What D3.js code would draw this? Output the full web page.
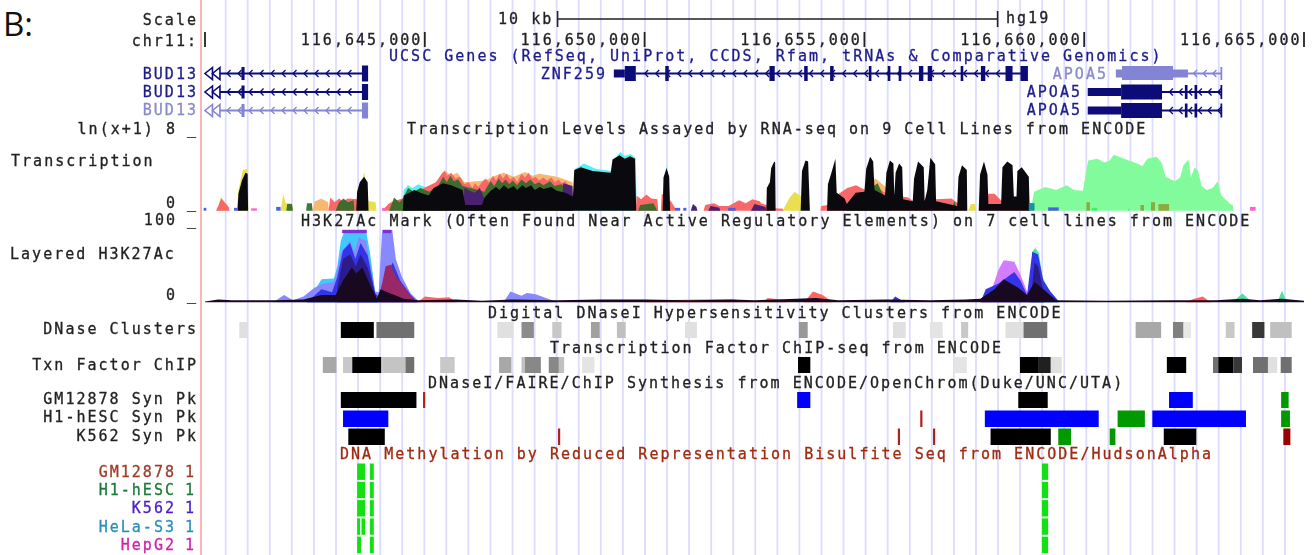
<!DOCTYPE html>
<html><head><meta charset="utf-8">
<script src="https://cdn.jsdelivr.net/npm/d3@7/dist/d3.min.js"></script>
<style>
html,body{margin:0;padding:0;background:#fff;overflow:hidden}
svg{display:block}
text{font-family:"DejaVu Sans Mono",monospace;font-size:15px;letter-spacing:2.02px;dominant-baseline:central}
.soft{filter:blur(0.75px)}
</style></head><body>
<script>
// ---------- axis ----------
const chrTicks=[116640000,116645000,116650000,116655000,116660000,116665000];
// ---------- track titles / labels ----------
const trackTitles=["UCSC Genes (RefSeq, UniProt, CCDS, Rfam, tRNAs & Comparative Genomics)","Transcription Levels Assayed by RNA-seq on 9 Cell Lines from ENCODE","H3K27Ac Mark (Often Found Near Active Regulatory Elements) on 7 cell lines from ENCODE","Digital DNaseI Hypersensitivity Clusters from ENCODE","Transcription Factor ChIP-seq from ENCODE","DNaseI/FAIRE/ChIP Synthesis from ENCODE/OpenChrom(Duke/UNC/UTA)","DNA Methylation by Reduced Representation Bisulfite Seq from ENCODE/HudsonAlpha"];
const sideLabels=["Scale","chr11:","BUD13","BUD13","BUD13","DNase Clusters","Txn Factor ChIP","GM12878 Syn Pk","H1-hESC Syn Pk","K562 Syn Pk"];
const methNames=["GM12878","H1-hESC","K562","HeLa-S3","HepG2"];
// ---------- genes, kb from chr11:116,640,000 ----------
const bud13Exons=[[0.83,0.90],[3.57,3.71]];
const znfExons=[[9.55,9.80],[10.47,10.55],[12.84,12.96],[13.63,13.71],[14.22,14.30],[15.10,15.16],[15.53,15.59],[15.78,15.84],[16.24,16.34],[16.44,16.54],[17.19,17.25],[17.65,17.75],[18.21,18.37],[18.55,18.72]];
const apoaExons=[[22.29,22.35],[22.51,22.57],[23.10,23.14]];
// ---------- transcription track (ln(x+1)), [kb,value] ----------
const txGreenBig=[[18.78,0],[18.86,2.0],[19.11,2.5],[19.36,2.2],[19.60,2.7],[19.77,2.2],[19.97,2.1],[20.09,5.3],[20.30,5.5],[20.46,5.1],[20.58,5.3],[20.67,5.9],[20.91,5.5],[21.20,5.0],[21.32,4.7],[21.44,5.5],[21.65,5.7],[21.77,5.0],[21.85,3.6],[22.06,3.1],[22.18,3.5],[22.26,4.8],[22.37,5.4],[22.43,3.5],[22.51,4.6],[22.59,4.2],[22.67,2.6],[22.79,2.2],[22.92,2.4],[23.04,3.1],[23.12,1.6],[23.32,0.7],[23.38,0.6],[23.40,0]];
const txCyan=[[4.50,0],[4.52,2.2],[4.62,2.7],[4.72,2.4],[4.85,2.8],[5.0,2.5],[5.2,2.7],[5.3,0],[8.38,0],[8.42,4.4],[8.62,5.0],[8.9,4.4],[9.25,4.2],[9.28,5.3],[9.45,6.2],[9.55,5.8],[9.68,6.0],[9.80,5.6],[9.82,0],[10.38,0],[10.5,4.8],[10.6,0]];
const txYellow=[[0.28,0],[0.36,1.45],[0.50,0.6],[0.54,0],[0.72,0],[0.76,2.2],[0.86,4.3],[0.96,4.4],[0.99,0],[1.72,0],[1.78,1.75],[1.84,0.8],[1.98,0.8],[2.0,0],[3.42,0],[3.62,4.1],[3.72,1.0],[3.75,1.0],[3.88,0.9],[3.9,0],[13.14,0],[13.3,1.4],[13.42,2.0],[13.56,1.5],[13.6,0],[17.36,0],[17.42,0.7],[17.52,0.7],[17.55,0]];
const txOrange=[[2.45,0],[2.5,1.0],[2.65,1.25],[2.8,0.9],[2.82,0],[5.2,0],[5.45,4.3],[5.6,3.7],[5.74,4.0],[5.9,3.0],[6.38,3.2],[6.6,3.7],[6.79,4.0],[7.03,3.6],[7.28,4.1],[7.45,3.7],[7.60,3.9],[8.01,3.6],[8.36,3.0],[8.38,0],[14.95,0],[15.15,3.0],[15.25,3.4],[15.51,2.4],[15.6,0]];
const txRed=[[0.25,0],[0.30,0.5],[0.37,1.3],[0.54,0.4],[0.56,0],[2.81,0],[2.85,1.4],[2.95,0.9],[3.05,1.3],[3.14,1.0],[3.25,1.3],[3.46,1.2],[3.5,0],[4.03,0],[4.19,0.8],[4.35,1.1],[4.50,1.3],[5.25,3.0],[5.4,4.0],[5.45,4.2],[5.52,3.7],[5.6,4.0],[5.7,3.4],[5.8,3.6],[5.9,2.8],[6.0,3.0],[6.08,2.4],[6.14,2.9],[6.22,2.5],[6.3,3.0],[6.38,3.4],[6.46,3.0],[6.55,3.7],[6.62,3.2],[6.7,3.9],[6.78,3.4],[6.86,3.9],[6.94,3.3],[7.02,3.6],[7.1,3.0],[7.2,3.9],[7.28,3.5],[7.36,4.0],[7.44,3.4],[7.52,3.6],[7.6,3.2],[7.7,3.5],[7.78,3.2],[7.88,3.5],[7.96,3.0],[8.04,3.3],[8.12,2.9],[8.2,3.1],[8.3,2.5],[8.36,0],[9.80,0],[9.82,1.6],[9.92,1.2],[10.04,1.7],[10.15,1.3],[10.29,1.2],[10.31,0],[10.37,0],[10.39,1.8],[10.6,1.0],[10.69,0.3],[10.71,0],[11.34,0],[11.38,0.6],[11.58,0.8],[11.7,0.5],[11.91,0.5],[12.15,1.1],[12.3,0.8],[12.45,1.2],[12.62,1.0],[12.65,0.8],[12.77,0.6],[12.97,0.25],[13.14,0.2],[13.16,0],[14.0,0],[14.02,0.5],[14.16,0.6],[14.36,1.6],[14.61,2.4],[14.81,2.7],[15.02,2.2],[15.22,2.6],[15.51,1.8],[15.86,1.5],[16.0,1.4],[16.12,1.0],[16.61,1.2],[16.98,1.3],[17.13,0.8],[17.33,0],[17.61,0],[17.80,1.8],[17.96,1.8],[18.13,1.0],[18.37,1.3],[18.47,1.3],[18.74,0.2],[18.76,0]];
const txGreen=[[1.85,0],[1.87,0.7],[1.98,0.7],[2.0,0],[2.30,0],[2.32,0.8],[2.43,0.8],[2.45,0],[2.97,0],[3.05,0.9],[3.15,1.3],[3.25,0.9],[3.38,1.1],[3.4,0],[4.19,0],[4.3,1.4],[4.42,0.9],[4.5,1.3],[4.62,2.4],[4.75,2.0],[4.9,2.4],[5.1,2.0],[5.3,2.6],[5.42,3.6],[5.5,3.0],[5.58,3.7],[5.66,3.1],[5.76,3.3],[5.86,2.6],[6.36,2.0],[6.4,2.4],[6.5,3.1],[6.58,2.6],[6.68,3.4],[6.76,2.9],[6.84,3.3],[6.92,2.8],[7.0,3.2],[7.1,2.7],[7.2,3.3],[7.3,2.9],[7.4,3.3],[7.5,2.8],[7.6,3.0],[7.7,2.7],[7.85,3.1],[7.95,2.6],[8.1,2.8],[8.3,2.3],[8.33,0],[9.85,0],[9.9,0.6],[10.2,0.8],[10.29,0],[14.6,0],[14.9,1.5],[15.3,2.9],[15.6,0],[16.95,0],[17.05,1.0],[17.12,0]];
const txPurple=[[5.88,0],[5.90,2.4],[6.02,2.1],[6.14,1.9],[6.25,2.4],[6.36,1.2],[6.38,0],[8.1,0],[8.15,2.9],[8.36,2.6],[8.38,0],[11.05,0],[11.1,0.7],[11.18,0.4],[11.2,0],[11.45,0],[11.5,0.5],[11.7,0.3],[11.72,0],[12.42,0],[12.5,0.7],[12.75,0.4],[12.77,0]];
const txBlack=[[0.74,0],[0.76,1.8],[0.84,3.2],[0.92,4.0],[0.97,3.9],[0.98,0],[3.44,0],[3.46,2.0],[3.52,3.0],[3.62,3.6],[3.70,3.0],[3.72,0],[4.50,0],[4.52,1.6],[4.65,1.9],[4.76,2.2],[4.90,1.9],[5.09,1.6],[5.20,2.4],[5.41,2.9],[5.60,2.7],[5.86,2.2],[5.92,0.6],[6.30,0.6],[6.36,1.4],[6.50,2.1],[6.62,2.5],[6.70,2.2],[6.80,2.7],[6.90,2.3],[7.02,2.6],[7.10,2.2],[7.22,2.7],[7.30,2.4],[7.42,2.7],[7.50,2.2],[7.62,2.5],[7.70,2.3],[7.88,2.5],[8.00,2.1],[8.20,1.9],[8.37,1.5],[8.40,4.3],[8.55,4.6],[8.82,4.2],[9.23,4.0],[9.27,5.4],[9.43,5.85],[9.55,5.5],[9.67,5.75],[9.78,5.5],[9.81,0],[10.41,0],[10.43,3.5],[10.50,4.5],[10.56,3.6],[10.58,0],[12.77,0],[12.78,2.4],[12.85,3.0],[12.88,4.5],[12.95,5.2],[12.97,5.1],[12.98,0],[13.55,0],[13.58,4.2],[13.66,5.3],[13.72,5.2],[13.76,0],[14.15,0],[14.17,2.8],[14.25,4.0],[14.34,5.5],[14.37,1.9],[14.55,1.3],[14.60,0.7],[14.8,1.9],[15.0,2.0],[15.04,4.4],[15.13,5.7],[15.20,5.2],[15.23,2.2],[15.47,1.6],[15.50,4.0],[15.58,5.3],[15.66,5.0],[15.68,1.6],[15.71,4.0],[15.79,5.0],[15.86,4.6],[15.88,1.2],[16.10,1.0],[16.13,3.4],[16.22,5.2],[16.35,4.6],[16.37,1.0],[16.43,2.2],[16.50,5.6],[16.61,4.9],[16.63,1.0],[17.11,0.5],[17.14,3.6],[17.22,4.8],[17.33,4.3],[17.34,0],[17.60,0],[17.63,3.8],[17.72,5.2],[17.80,3.8],[17.82,0.7],[18.11,0.7],[18.14,4.6],[18.25,5.2],[18.37,4.8],[18.40,1.5],[18.46,1.5],[18.48,4.2],[18.58,4.6],[18.74,3.6],[18.76,0]];
const txBlueSpots=[[-0.03,0.03,0.3],[0.66,0.74,0.3],[1.62,1.72,0.4],[10.69,10.81,0.3],[10.88,10.95,0.3],[11.90,12.07,0.3],[19.18,19.42,0.35]];
const txTealSpots=[[18.74,18.87,0.8]];
const txOliveSpots=[[20.05,20.13,0.9],[21.28,21.36,0.6],[21.52,21.61,0.9],[21.69,21.93,0.7]];
const txLimeSpots=[[20.17,20.30,0.3],[21.0,21.03,0.2]];
const txPinkSpots=[[23.77,23.90,0.4],[4.03,4.1,0.3],[1.05,1.18,0.25]];
// ---------- H3K27Ac track (0-100), [kb,value] ----------
const h3Teal=[[18.74,0],[18.82,70],[18.89,75],[18.97,68],[19.05,35],[19.19,18],[19.40,3],[19.42,0],[23.37,0],[23.6,12],[23.77,3],[23.79,0],[24.39,0],[24.5,16],[24.59,3],[24.61,0]];
const h3Magenta=[[17.64,0],[17.66,5],[17.92,22],[18.05,45],[18.17,58],[18.41,56],[18.55,38],[18.70,15],[18.80,8],[18.82,0]];
const h3Cyan=[[2.32,0],[2.49,16],[2.65,32],[2.93,33],[3.01,50],[3.09,85],[3.18,100],[3.66,100],[3.75,70],[3.87,15],[3.95,0]];
const h3Lavender=[[1.55,0],[1.80,10],[2.0,3],[2.24,8],[2.49,20],[2.65,25],[2.93,28],[3.01,45],[3.09,68],[3.30,85],[3.40,70],[3.50,90],[3.66,85],[3.87,15],[3.95,14],[4.03,100],[4.26,100],[4.34,60],[4.48,35],[4.68,12],[4.84,3],[4.92,0],[6.79,0],[6.95,15],[7.20,9],[7.32,13],[7.52,11],[7.85,4],[8.01,0]];
const h3Red=[[4.84,0],[5.0,8],[5.3,6],[5.55,7],[5.73,0],[10.0,0],[10.3,3],[11.2,4],[12.0,4],[12.69,0],[12.8,6],[13.22,3],[13.24,0],[13.63,0],[13.83,15],[14.05,10],[14.28,0],[22.30,0],[22.5,5],[22.7,8],[22.87,0]];
const h3Blue=[[2.32,0],[2.65,18],[2.89,14],[3.01,35],[3.14,72],[3.30,82],[3.42,60],[3.54,82],[3.70,65],[3.87,12],[3.95,8],[4.03,25],[4.27,55],[4.44,30],[4.68,10],[4.84,0],[15.59,0],[15.7,8],[15.92,0],[17.64,0],[17.76,18],[18.05,26],[18.41,42],[18.55,30],[18.70,10],[18.82,70],[18.95,66],[19.07,30],[19.23,15],[19.40,3],[19.42,0]];
const h3Plum=[[3.99,0],[4.01,20],[4.11,50],[4.23,52],[4.35,35],[4.64,12],[4.84,0]];
const h3Navy=[[3.01,20],[3.14,60],[3.30,66],[3.43,50],[3.54,66],[3.70,48],[3.91,4],[3.93,0],[18.78,0],[18.87,55],[18.95,50],[19.07,15],[19.1,0]];
const h3Black=[[0,1],[0.3,4],[0.6,3],[1.0,3],[1.6,3],[2.24,4],[2.65,10],[2.97,10],[3.14,30],[3.34,48],[3.44,40],[3.58,48],[3.75,25],[3.91,5],[3.99,18],[4.15,14],[4.31,10],[4.52,5],[4.84,3],[5.7,4],[6.3,2],[7.0,4],[8.0,3],[9.0,4],[10.0,4],[11.0,3],[12.0,4],[12.5,3],[13.0,4],[13.9,6],[14.4,3],[15.5,4],[16.5,3],[17.3,4],[17.64,5],[17.96,18],[18.17,32],[18.33,26],[18.50,20],[18.70,10],[18.87,28],[19.03,20],[19.36,3],[20.5,2],[22.0,3],[23.0,3],[23.6,5],[24.0,3],[24.5,5],[25,2]];
const h3ClipBars=[[3.12,3.68],[4.05,4.24]];
// ---------- box tracks: [start kb,end kb,grey level or colour] ----------
const dnase=[[0.78,0.96,"#e0e0e0"],[3.09,3.84,"#000"],[3.90,4.76,"#707070"],[6.65,7.02,"#e0e0e0"],[7.20,7.48,"#8c8c8c"],[7.90,8.11,"#c8c8c8"],[8.78,8.98,"#a0a0a0"],[9.37,9.57,"#c0c0c0"],[10.92,11.19,"#e0e0e0"],[13.51,13.71,"#999"],[15.65,15.94,"#e0e0e0"],[16.49,16.78,"#e4e4e4"],[17.20,17.36,"#c8c8c8"],[18.21,18.62,"#e0e0e0"],[18.62,19.16,"#707070"],[21.17,21.75,"#a8a8a8"],[22.02,22.26,"#808080"],[22.26,22.43,"#e8e8e8"],[23.22,23.42,"#c8c8c8"],[23.82,24.10,"#383838"],[24.23,24.72,"#c0c0c0"]];
const txnFactor=[[2.68,2.99,"#a8a8a8"],[3.14,3.35,"#c8c8c8"],[3.35,4.01,"#000"],[4.03,4.56,"#c4c4c4"],[4.56,4.76,"#707070"],[5.35,5.68,"#c8c8c8"],[6.69,6.97,"#a8a8a8"],[7.20,7.28,"#c0c0c0"],[7.28,7.64,"#888"],[7.82,8.05,"#888"],[8.05,8.17,"#c0c0c0"],[8.58,8.86,"#e4e4e4"],[13.49,13.77,"#000"],[17.04,17.33,"#e4e4e4"],[18.54,18.95,"#000"],[18.95,19.24,"#202020"],[19.24,19.49,"#e0e0e0"],[21.88,22.32,"#000"],[22.93,23.05,"#707070"],[23.05,23.39,"#000"],[23.39,23.59,"#383838"],[23.84,24.18,"#707070"],[24.18,24.39,"#e0e0e0"],[24.47,24.72,"#707070"]];
const synGM=[[3.09,4.81,"#000"],[4.96,5.01,"#b02020"],[13.47,13.77,"#00f"],[18.50,19.17,"#000"],[21.93,22.47,"#00f"],[24.48,24.65,"#090"]];
const synH1=[[3.14,4.17,"#00f"],[16.27,16.32,"#b02020"],[17.74,20.33,"#00f"],[20.76,21.38,"#090"],[21.55,23.68,"#00f"],[24.48,24.68,"#090"]];
const synK562=[[3.26,4.09,"#000"],[8.03,8.08,"#b02020"],[15.76,15.81,"#b02020"],[16.56,16.61,"#b02020"],[17.87,19.24,"#000"],[19.41,19.70,"#090"],[20.58,20.71,"#090"],[21.81,22.55,"#000"],[24.53,24.69,"#900"]];
// ---------- methylation rows: [start kb,end kb] ----------
const methGM=[[3.46,3.64],[3.75,3.84],[19.04,19.18]];
const methH1=[[3.46,3.64],[3.75,3.84],[19.04,19.18]];
const methK562=[[3.46,3.64],[3.75,3.84],[19.04,19.18]];
const methHeLa=[[3.46,3.53],[3.56,3.64],[3.75,3.84],[19.04,19.18]];
const methHepG2=[[3.46,3.55],[3.75,3.84],[19.04,19.18]];

const W=1314,H=555,base=116640000;
const x=d3.scaleLinear().domain([0,25]).range([205,1304]);
const yTx=d3.scaleLinear().domain([0,8]).range([210.7,135]);
const yH3=d3.scaleLinear().domain([0,100]).range([302.3,230]);
const svg=d3.select("body").append("svg").attr("width",W).attr("height",H);
svg.append("rect").attr("width",W).attr("height",H).attr("fill","#fff");
svg.append("text").text("B:").attr("x",3).attr("y",23)
  .style("font-family","'Open Sans'").style("font-size","33px").style("letter-spacing","0").attr("fill","#111");
const g=svg.append("g").attr("class","soft");

// grid + guide line
g.append("g").selectAll("line").data(d3.range(0,49)).join("line")
  .attr("x1",d=>x(0.47+d*0.502)).attr("x2",d=>x(0.47+d*0.502)).attr("y1",0).attr("y2",H)
  .attr("stroke","#dcdcff").attr("stroke-width",1.8);
g.append("line").attr("x1",201).attr("x2",201).attr("y1",0).attr("y2",H).attr("stroke","#ffb4b4").attr("stroke-width",2);

function txt(s,xp,y,anchor,color){
  const c=color||"#222";
  return g.append("text").text(s).attr("x",xp).attr("y",y).attr("text-anchor",anchor||"start").attr("fill",c).attr("stroke",c).attr("stroke-width",0.3);
}
// header
txt(sideLabels[0],198,20,"end"); txt(sideLabels[1],198,41,"end");
txt("10 kb",498,19); txt("hg19",1006,18);
g.append("path").attr("d",`M${x(8.02)},11V27M${x(8.02)},19H${x(18.03)}M${x(18.03)},11V27`).attr("stroke","#222").attr("fill","none").attr("stroke-width",1.6);
chrTicks.forEach(t=>{
  const p=x((t-base)/1000);
  g.append("line").attr("x1",p).attr("x2",p).attr("y1",32).attr("y2",47).attr("stroke","#222").attr("stroke-width",1.8);
  if(t>base) txt(d3.format(",")(t),p-2.5,40,"end");
});
// titles
[[389,56,"#1c1c8c"],[407,129],[301,221],[488,313],[550,348],[428,383],[340,454,"#a02a10"]]
 .forEach((a,i)=>txt(trackTitles[i],a[0],a[1],"start",a[2]));
// gene labels
const geneDark="#0c0c78",geneLight="#8484d4";
txt(sideLabels[2],198,74,"end","#1c1c8c"); txt(sideLabels[3],198,92,"end","#1c1c8c"); txt(sideLabels[4],198,110,"end","#8a8ac8");
txt("ZNF259",607,74,"end","#1c1c8c"); txt("APOA5",1108,74,"end","#8a8ac8"); txt("APOA5",1082,92,"end","#1c1c8c"); txt("APOA5",1082,110,"end","#1c1c8c");

function chevrons(a,b,y,c,step){
  const p=d3.range(a+step/2,b,step).map(v=>`M${x(v)+2.5},${y-3.5}L${x(v)-1},${y}L${x(v)+2.5},${y+3.5}`).join("");
  g.append("path").attr("d",p).attr("fill","none").attr("stroke",c).attr("stroke-width",1.3);
}
function line(a,b,y,c){g.append("line").attr("x1",x(a)).attr("x2",x(b)).attr("y1",y).attr("y2",y).attr("stroke",c).attr("stroke-width",1.8);}
function box(a,b,cy,h,c){g.append("rect").attr("x",x(a)).attr("width",x(b)-x(a)).attr("y",cy-h/2).attr("height",h).attr("fill",c);}
// BUD13
[[73.5,geneDark],[92,geneDark],[110.5,geneLight]].forEach(([y,c])=>{
  line(0.34,3.6,y,c); chevrons(0.4,3.5,y,c,0.25);
  [0,0.17].forEach(o=>{
    const a=x(o),w=x(o+0.17)-a;
    g.append("path").attr("d",`M${a+w},${y-6}L${a},${y}L${a+w},${y+6}Z`).attr("fill","#fff").attr("stroke",c).attr("stroke-width",1.6);
  });
  bud13Exons.forEach((e,i)=>box(e[0],e[1],y,i?16:13,c));
});
// ZNF259
line(9.8,18.6,73.5,geneDark); chevrons(9.9,18.5,73.5,geneDark,0.25);
box(9.30,9.55,73.5,8,geneDark);
znfExons.forEach(e=>box(e[0],e[1],73.5,15,geneDark));
// APOA5
line(22.3,23.13,73.5,geneLight); chevrons(22.4,23.1,73.5,geneLight,0.22);
box(20.72,22.36,73.5,8,geneLight); box(20.86,22.02,73,14,geneLight); box(23.10,23.14,73.5,13,geneLight);
[92,110.5].forEach(y=>{
  line(21.7,23.13,y,geneDark); chevrons(21.85,23.1,y,geneDark,0.22);
  box(20.08,20.84,y,8,geneDark); box(20.84,21.77,y,15,geneDark);
  apoaExons.forEach(e=>box(e[0],e[1],y,14,geneDark));
});

// signal tracks
function area(data,y,color,op){
  const a=d3.area().x(d=>x(d[0])).y0(y(0)).y1(d=>y(d[1]));
  g.append("path").attr("d",a(data)).attr("fill",color).attr("opacity",op==null?1:op);
}
function spots(data,y,color){
  g.append("g").selectAll("rect").data(data).join("rect")
   .attr("x",d=>x(d[0])).attr("width",d=>x(d[1])-x(d[0])).attr("y",d=>y(d[2])).attr("height",d=>y(0)-y(d[2])).attr("fill",color);
}
txt("ln(x+1) 8",177,129,"end"); txt("_",198,129,"end"); txt("Transcription",11,161); txt("0",177,203,"end"); txt("_",198,203,"end");
txt("100",177,220,"end"); txt("_",198,220,"end"); txt("Layered H3K27Ac",10,254); txt("0",177,295,"end"); txt("_",198,295,"end");

area(txGreenBig,yTx,"#82fb9c");
area(txCyan,yTx,"#58f0f0");
area(txYellow,yTx,"#e8e050");
area(txOrange,yTx,"#f8b870");
area(txRed,yTx,"#f86868");
area(txGreen,yTx,"#2a6c26",0.9);
area(txPurple,yTx,"#4a2070");
area(txBlack,yTx,"#0a0a0e");
spots(txBlueSpots,yTx,"#4a60e0"); spots(txTealSpots,yTx,"#1890a8");
spots(txOliveSpots,yTx,"#90a840"); spots(txLimeSpots,yTx,"#40f070"); spots(txPinkSpots,yTx,"#ff60d0");

area(h3Teal,yH3,"#50e0a0");
area(h3Magenta,yH3,"#d47cff");
area(h3Cyan,yH3,"#40c8ff");
area(h3Lavender,yH3,"#8888ff");
area(h3Red,yH3,"#ff6464");
area(h3Blue,yH3,"#3434e8");
area(h3Plum,yH3,"#982868");
area(h3Navy,yH3,"#2c1c88");
area(h3Black,yH3,"#180820");
h3ClipBars.forEach(b=>box(b[0],b[1],231.5,3.4,"#8030d0"));

// box tracks
function boxes(data,y0,y1){
  g.append("g").selectAll("rect").data(data).join("rect")
   .attr("x",d=>x(d[0])).attr("width",d=>x(d[1])-x(d[0])).attr("y",y0).attr("height",y1-y0).attr("fill",d=>d[2]);
}
txt(sideLabels[5],198,329,"end"); boxes(dnase,322,338);
txt(sideLabels[6],198,365,"end"); boxes(txnFactor,357,373);
txt(sideLabels[7],198,399,"end"); boxes(synGM,392,408);
txt(sideLabels[8],198,417,"end"); boxes(synH1,410.5,427);
txt(sideLabels[9],198,436,"end"); boxes(synK562,428.5,445);
// methylation
const methColors=["#a03c28","#1a7a3a","#4a20c8","#2a90b8","#d020b0"];
[methGM,methH1,methK562,methHeLa,methHepG2].forEach((r,i)=>{
  const cy=471.7+i*18.3;
  txt(methNames[i],176,cy,"end",methColors[i]); txt("1",196,cy,"end",methColors[i]);
  boxes(r.map(d=>[d[0],d[1],"#12e012"]),cy-8.2,cy+8.2);
});
</script></body></html>
